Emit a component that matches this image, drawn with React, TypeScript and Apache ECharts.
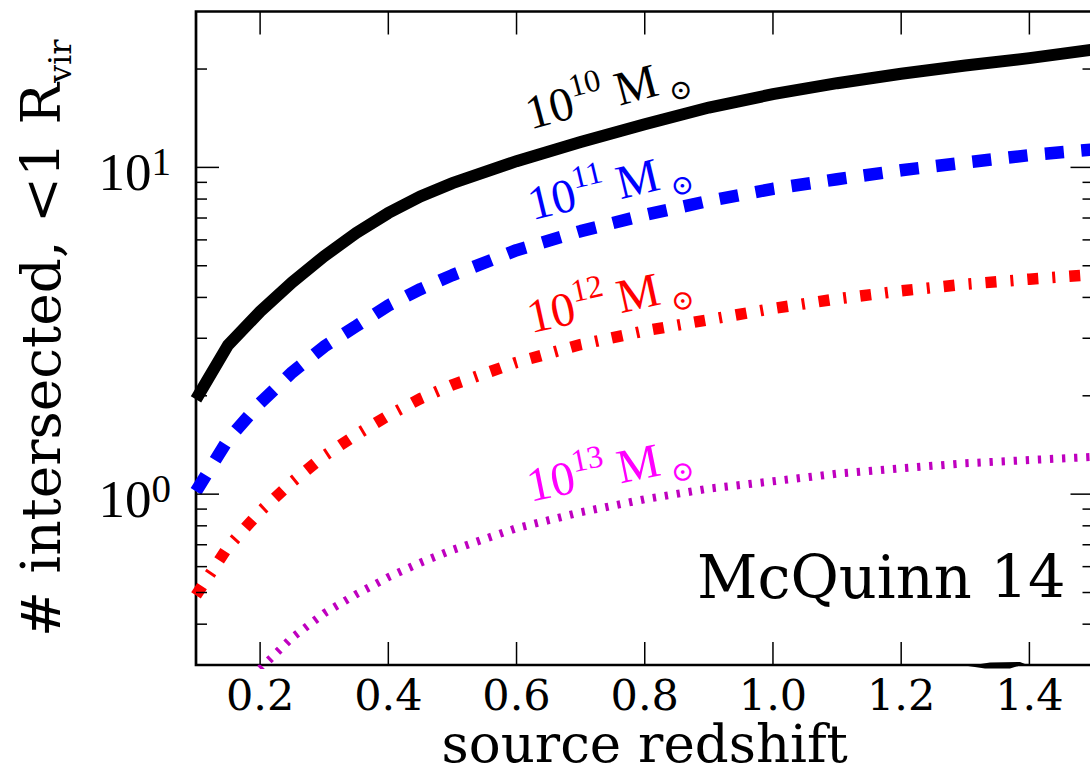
import React, { useEffect, useRef } from 'react';
import * as echarts from 'echarts';

// ---- data ----
const redshift = [0.10, 0.15, 0.20, 0.25, 0.30, 0.35, 0.40, 0.45, 0.50, 0.60, 0.70, 0.80, 0.90, 1.00, 1.10, 1.20, 1.30, 1.40, 1.50];
const halo1e10 = [1.95, 2.86, 3.62, 4.45, 5.35, 6.3, 7.25, 8.15, 8.95, 10.45, 11.95, 13.55, 15.25, 16.75, 18.1, 19.35, 20.5, 21.6, 22.95];
const halo1e11 = [1.02, 1.47, 1.90, 2.36, 2.83, 3.27, 3.78, 4.24, 4.68, 5.58, 6.38, 7.15, 7.9, 8.6, 9.2, 9.8, 10.35, 10.9, 11.35];
const halo1e12 = [0.49, 0.69, 0.885, 1.09, 1.31, 1.52, 1.74, 1.96, 2.16, 2.53, 2.87, 3.16, 3.42, 3.70, 3.96, 4.19, 4.39, 4.55, 4.70];
const halo1e13 = [null, null, 0.292, 0.364, 0.432, 0.494, 0.557, 0.617, 0.675, 0.787, 0.88, 0.965, 1.04, 1.095, 1.155, 1.20, 1.243, 1.272, 1.30];
const haloExponents = ['10', '11', '12', '13'];
const xTickValues = [0.2, 0.4, 0.6, 0.8, 1.0, 1.2, 1.4];
const yMajorTickValues = [1, 10];
const yMinorTickValues = [0.4, 0.5, 0.6, 0.7, 0.8, 0.9, 2, 3, 4, 5, 6, 7, 8, 9, 20];
const X_MIN = 0.1;
const X_MAX = 1.5;
const Y_MIN = 0.3;
const Y_MAX = 30;

const SERIF = "'DejaVu Serif', serif";
const MATH = "'Liberation Serif', serif";

const toPairs = (ys: (number | null)[]) =>
  redshift.map((x, i) => [x, ys[i]]).filter((p) => p[1] !== null);

function curveLabel(exp: string, color: string, x: number, y: number, deg: number) {
  return {
    type: 'text',
    x,
    y,
    rotation: (deg * Math.PI) / 180,
    style: {
      text: `{n|10}{p|${exp}}{n| M}{b| ⊙}`,
      align: 'center',
      verticalAlign: 'middle',
      fill: color,
      rich: {
        n: { fontFamily: MATH, fontSize: 48, lineHeight: 62, fill: color },
        p: { fontFamily: MATH, fontSize: 32, lineHeight: 30, verticalAlign: 'top', fill: color },
        b: { fontFamily: SERIF, fontSize: 28, lineHeight: 24, verticalAlign: 'bottom', fill: color },
      },
    },
  };
}

export default function App() {
  const ref = useRef<HTMLDivElement>(null);
  useEffect(() => {
    if (!ref.current) return;
    const chart = echarts.init(ref.current, undefined, { renderer: 'svg' });
    const tickStyle = { stroke: '#000', lineWidth: 1.5 };
    const option: any = {
      animation: false,
      backgroundColor: '#ffffff',
      grid: {
        left: 196,
        top: 11.5,
        width: 897.5,
        height: 653.5,
        show: true,
        borderColor: '#000',
        borderWidth: 2.7,
        backgroundColor: 'transparent',
        containLabel: false,
        outerBoundsMode: 'none',
      },
      xAxis: {
        type: 'value',
        min: X_MIN,
        max: X_MAX,
        interval: 0.1,
        name: 'source redshift',
        nameLocation: 'middle',
        nameGap: 57,
        nameMoveOverlap: false,
        nameTextStyle: { fontFamily: SERIF, fontSize: 53, lineHeight: 42, color: '#000' },
        axisLine: { show: false },
        axisTick: { show: false },
        splitLine: { show: false },
        axisLabel: {
          margin: 8,
          fontFamily: SERIF,
          fontSize: 43,
          lineHeight: 44,
          color: '#000',
          formatter: (v: number) => {
            const k = Math.round(v * 10);
            return k % 2 === 0 && k >= 2 && k <= 14 ? (k / 10).toFixed(1) : '';
          },
        },
      },
      yAxis: {
        type: 'log',
        logBase: 10,
        min: Y_MIN,
        max: Y_MAX,
        name: '{m|# intersected, <1 R}{s|vir}',
        nameLocation: 'middle',
        nameRotate: 90,
        nameGap: 120,
        nameMoveOverlap: false,
        nameTextStyle: {
          color: '#000',
          rich: {
            m: { fontFamily: SERIF, fontSize: 55, lineHeight: 70, color: '#000' },
            s: { fontFamily: SERIF, fontSize: 32, lineHeight: 30, verticalAlign: 'bottom', color: '#000' },
          },
        },
        axisLine: { show: false },
        axisTick: { show: false },
        splitLine: { show: false },
        minorTick: { show: false },
        axisLabel: {
          margin: 25,
          padding: [10, 0, 0, 0],
          showMinLabel: false,
          showMaxLabel: false,
          formatter: (v: number) => {
            const l = Math.log10(v);
            const r = Math.round(l);
            if (Math.abs(l - r) < 1e-6 && v > 0.5 && v < 20) return `{n|10}{p|${r}}`;
            return '';
          },
          rich: {
            n: { fontFamily: MATH, fontSize: 53, lineHeight: 60, color: '#000' },
            p: { fontFamily: MATH, fontSize: 39, lineHeight: 27, verticalAlign: 'top', color: '#000' },
          },
        },
      },
      series: [
        {
          name: '1e10',
          type: 'line',
          data: toPairs(halo1e10),
          showSymbol: false,
          symbol: 'none',
          lineStyle: { color: '#000000', width: 12, cap: 'butt', join: 'miter' },
          z: 4,
        },
        {
          name: '1e11',
          type: 'line',
          data: toPairs(halo1e11),
          showSymbol: false,
          symbol: 'none',
          lineStyle: { color: '#0000ff', width: 12.5, type: [19, 17.5], cap: 'butt' },
          z: 3,
        },
        {
          name: '1e12',
          type: 'line',
          data: toPairs(halo1e12),
          showSymbol: false,
          symbol: 'none',
          lineStyle: { color: '#ff0000', width: 11.5, type: [11, 14, 3, 14], cap: 'butt' },
          z: 3,
        },
        {
          name: '1e13',
          type: 'line',
          data: toPairs(halo1e13),
          showSymbol: false,
          symbol: 'none',
          lineStyle: { color: '#bf00bf', width: 8, type: [3.3, 8.8], cap: 'butt' },
          z: 3,
        },
        {
          type: 'custom',
          silent: true,
          z: 10,
          data: [
            ...yMajorTickValues.map((v) => [X_MIN, v, 1]),
            ...yMinorTickValues.map((v) => [X_MIN, v, 0]),
          ],
          renderItem: (_p: any, api: any) => {
            const v = api.value(1);
            const len = api.value(2) ? 23 : 11;
            const a = api.coord([X_MIN, v]);
            const b = api.coord([X_MAX, v]);
            return {
              type: 'group',
              children: [
                { type: 'line', shape: { x1: a[0], y1: a[1], x2: a[0] + len, y2: a[1] }, style: tickStyle },
                { type: 'line', shape: { x1: b[0] - len, y1: b[1], x2: b[0], y2: b[1] }, style: tickStyle },
              ],
            };
          },
        },
        {
          type: 'custom',
          silent: true,
          z: 10,
          data: xTickValues.map((v) => [v, Y_MIN]),
          renderItem: (_p: any, api: any) => {
            const x = api.value(0);
            const a = api.coord([x, Y_MIN]);
            const b = api.coord([x, Y_MAX]);
            return {
              type: 'group',
              children: [
                { type: 'line', shape: { x1: a[0], y1: a[1], x2: a[0], y2: a[1] - 23 }, style: tickStyle },
                { type: 'line', shape: { x1: b[0], y1: b[1], x2: b[0], y2: b[1] + 23 }, style: tickStyle },
              ],
            };
          },
        },
      ],
      graphic: [
        curveLabel(haloExponents[0], '#000000', 607, 92, 15),
        curveLabel(haloExponents[1], '#0000ff', 609, 185, 13.5),
        curveLabel(haloExponents[2], '#ff0000', 609, 299, 12.5),
        curveLabel(haloExponents[3], '#ff00ff', 609, 469, 11.5),
        {
          type: 'text',
          x: 697,
          y: 577,
          style: {
            text: 'McQuinn 14',
            fontFamily: SERIF,
            fontSize: 59,
            fill: '#000',
            align: 'left',
            verticalAlign: 'middle',
          },
        },
        {
          type: 'polygon',
          shape: { points: [[968, 666], [990, 662.5], [1020, 662], [1025, 664], [1010, 668.5], [985, 668.5]] },
          style: { fill: '#000' },
        },
      ],
    };
    chart.setOption(option);
    return () => chart.dispose();
  }, []);
  return (
    <div
      ref={ref}
      style={{ position: 'fixed', left: 0, top: 0, width: 1090, height: 773, background: '#fff' }}
    />
  );
}
